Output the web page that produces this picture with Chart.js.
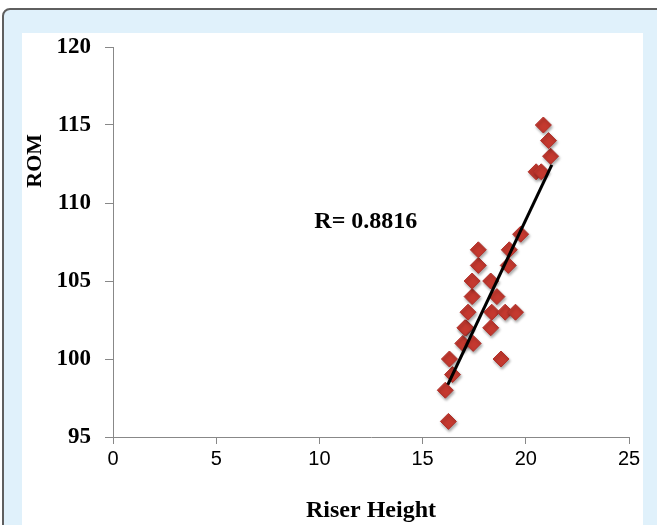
<!DOCTYPE html>
<html>
<head>
<meta charset="utf-8">
<script src="https://cdn.jsdelivr.net/npm/chart.js@4"></script>
<style>
  body { margin: 0; background: #fff; width: 657px; height: 525px; overflow: hidden; position: relative; }
  .frame { position: absolute; left: 2px; top: 8px; width: 700px; height: 560px;
           border: 2px solid #5f5f5f; border-radius: 8px; background: #e0f1fb; }
  .plot { position: absolute; left: 22px; top: 33px; width: 621px; height: 492px; background: #fff; }
  canvas { display: block; }
</style>
</head>
<body>
<div class="frame"></div>
<div class="plot"><canvas id="chart" width="621" height="492"></canvas></div>
<script>
// Riser height vs ROM
const riserHeight = [16.25, 16.1, 16.45, 16.3, 16.95, 17.45, 17.1, 17.05, 17.2, 17.4, 17.4, 17.7, 17.7,
                     18.3, 18.6, 18.35, 18.3, 19.0, 19.5, 18.8, 19.2, 19.15, 19.75, 20.5, 20.75, 21.2, 21.1, 20.85];
const rom = [96, 98, 99, 100, 101, 101, 102, 102, 103, 104, 105, 106, 107,
             105, 104, 103, 102, 103, 103, 100, 107, 106, 108, 112, 112, 113, 114, 115];
// trend line ends
const trendX = [16.22, 21.26];
const trendY = [98.35, 112.45];
const xTicks = [0, 5, 10, 15, 20, 25];
const yTicks = [95, 100, 105, 110, 115, 120];
const rLabel = 'R= 0.8816';

const serif = '"Liberation Serif", "Times New Roman", serif';

// texto extra: R y titulo del eje Y
const textPlugin = {
    id: 'extraText',
    afterDraw(chart) {
        const { ctx, scales } = chart;
        ctx.save();
        ctx.fillStyle = '#000';
        ctx.font = 'bold 24px ' + serif;
        ctx.textAlign = 'center';
        ctx.textBaseline = 'middle';
        ctx.fillText(rLabel, scales.x.getPixelForValue(12.25), scales.y.getPixelForValue(108.8));
        ctx.translate(13, scales.y.getPixelForValue(112.7));
        ctx.rotate(-Math.PI / 2);
        ctx.font = 'bold 22px ' + serif;
        ctx.fillText('ROM', 0, 0);
        ctx.restore();
    }
};

const shadowPlugin = {
    id: 'markerShadow',
    beforeDatasetDraw(chart, args) {
        if (args.index !== 1) return;
        const ctx = chart.ctx;
        ctx.save();
        ctx.shadowColor = 'rgba(0,0,0,0.35)';
        ctx.shadowBlur = 3;
        ctx.shadowOffsetX = 1;
        ctx.shadowOffsetY = 2;
    },
    afterDatasetDraw(chart, args) {
        if (args.index !== 1) return;
        chart.ctx.restore();
    }
};

new Chart(document.getElementById('chart'), {
    type: 'scatter',
    data: {
        datasets: [{
            type: 'line',
            data: trendX.map((x, i) => ({ x, y: trendY[i] })),
            borderColor: '#000',
            borderWidth: 3,
            pointRadius: 0,
            order: 0
        }, {
            data: riserHeight.map((x, i) => ({ x, y: rom[i] })),
            pointStyle: 'rectRot',
            pointRadius: 8,
            backgroundColor: '#c4392f',
            borderColor: '#b0302a',
            borderWidth: 1,
            order: 1
        }]
    },
    options: {
        responsive: false,
        animation: false,
        layout: { padding: { left: 0, right: 14, top: 14, bottom: 0 } },
        plugins: { legend: { display: false }, tooltip: { enabled: false } },
        scales: {
            x: {
                type: 'linear',
                min: 0, max: 25,
                afterFit: s => { s.height = 88; s.paddingLeft = 0; s.paddingRight = 0; },
                afterBuildTicks: s => { s.ticks = xTicks.map(v => ({ value: v })); },
                grid: { drawOnChartArea: false, color: '#888', tickLength: 7 },
                border: { color: '#888', width: 1 },
                ticks: { color: '#000', padding: 3,
                         font: { family: '"Liberation Sans Narrow", "Liberation Sans", sans-serif', size: 20 } },
                title: { display: true, text: 'Riser Height', color: '#000', padding: { top: 0, bottom: 0 },
                         font: { family: serif, size: 24, weight: 'bold' } }
            },
            y: {
                min: 95, max: 120,
                afterFit: s => { s.width = 91; s.paddingTop = 0; s.paddingBottom = 0; },
                afterBuildTicks: s => { s.ticks = yTicks.map(v => ({ value: v })); },
                grid: { drawOnChartArea: false, color: '#888', tickLength: 8 },
                border: { color: '#888', width: 1 },
                ticks: { color: '#000', padding: 14,
                         font: { family: serif, size: 23, weight: 'bold' } }
            }
        }
    },
    plugins: [textPlugin, shadowPlugin]
});
</script>
</body>
</html>
